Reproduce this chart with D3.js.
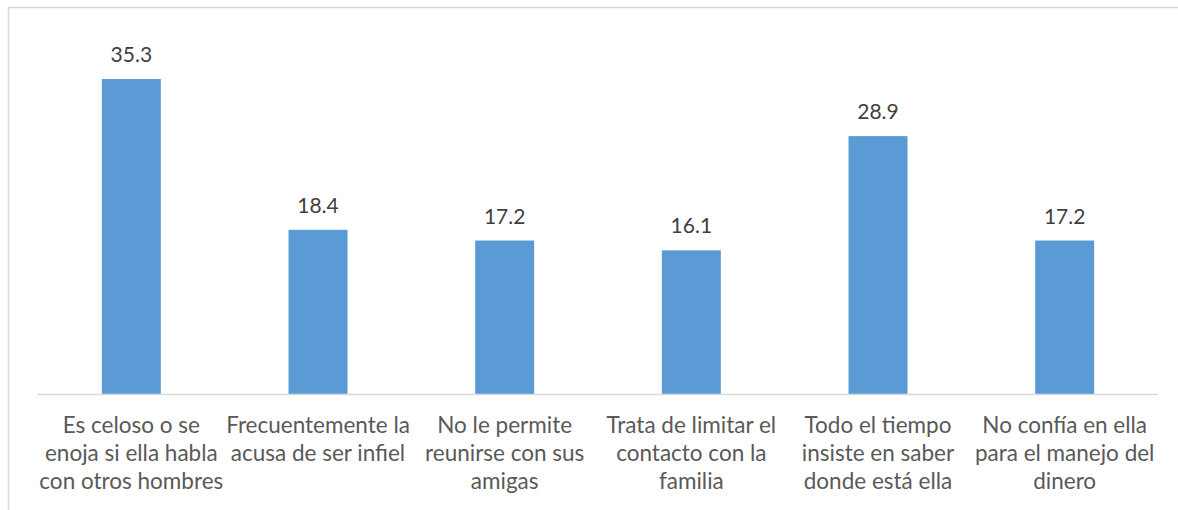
<!DOCTYPE html>
<html>
<head>
<meta charset="utf-8">
<script src="https://cdn.jsdelivr.net/npm/d3@7"></script>
<style>
  html, body { margin: 0; padding: 0; background: #fff; }
  svg { display: block; }
</style>
</head>
<body>
<svg id="chart" width="1178" height="510"></svg>
<script>
const categories = [
  ["Es celoso o se", "enoja si ella habla", "con otros hombres"],
  ["Frecuentemente la", "acusa de ser infiel"],
  ["No le permite", "reunirse con sus", "amigas"],
  ["Trata de limitar el", "contacto con la", "familia"],
  ["Todo el tiempo", "insiste en saber", "donde está ella"],
  ["No confía en ella", "para el manejo del", "dinero"]
];
const values = [35.3, 18.4, 17.2, 16.1, 28.9, 17.2];
const yDomain = [0, 40];

const svg = d3.select("#chart");
const font = "Lato, 'Open Sans', sans-serif";

// outer chart border (right/bottom edges fall outside the crop)
svg.append("rect")
  .attr("x", 8.5).attr("y", 7.5)
  .attr("width", 1300).attr("height", 700)
  .attr("fill", "none").attr("stroke", "#D9D9D9").attr("stroke-width", 1.5);

const left = 38, right = 1158, baseY = 394;
const keys = d3.range(values.length);
const x = d3.scaleBand().domain(keys).range([left, right])
  .paddingInner(0.684).paddingOuter(0.342);
const y = d3.scaleLinear().domain(yDomain).range([baseY, baseY - 40 * (315 / 35.3)]);

svg.append("g").selectAll("rect").data(values).join("rect")
  .attr("x", (d, i) => x(i))
  .attr("y", d => y(d))
  .attr("width", x.bandwidth())
  .attr("height", d => y(0) - y(d))
  .attr("fill", "#5B9BD5");

// baseline
svg.append("line")
  .attr("x1", left).attr("x2", right)
  .attr("y1", baseY + 0.5).attr("y2", baseY + 0.5)
  .attr("stroke", "#D9D9D9").attr("stroke-width", 1.5);

// value labels
svg.append("g").selectAll("text").data(values).join("text")
  .attr("x", (d, i) => x(i) + x.bandwidth() / 2)
  .attr("y", d => y(d) - 17)
  .attr("text-anchor", "middle")
  .attr("font-family", font).attr("font-size", 21)
  .attr("fill", "#404040")
  .text(d => d.toFixed(1));

// category labels
const cg = svg.append("g").selectAll("text").data(categories).join("text")
  .attr("text-anchor", "middle")
  .attr("font-family", font).attr("font-size", 22.5)
  .attr("fill", "#595959");
cg.each(function (lines, i) {
  const cx = x(i) + x.bandwidth() / 2;
  d3.select(this).selectAll("tspan").data(lines).join("tspan")
    .attr("x", cx)
    .attr("y", (l, j) => 433 + j * 28)
    .text(l => l);
});
</script>
</body>
</html>
